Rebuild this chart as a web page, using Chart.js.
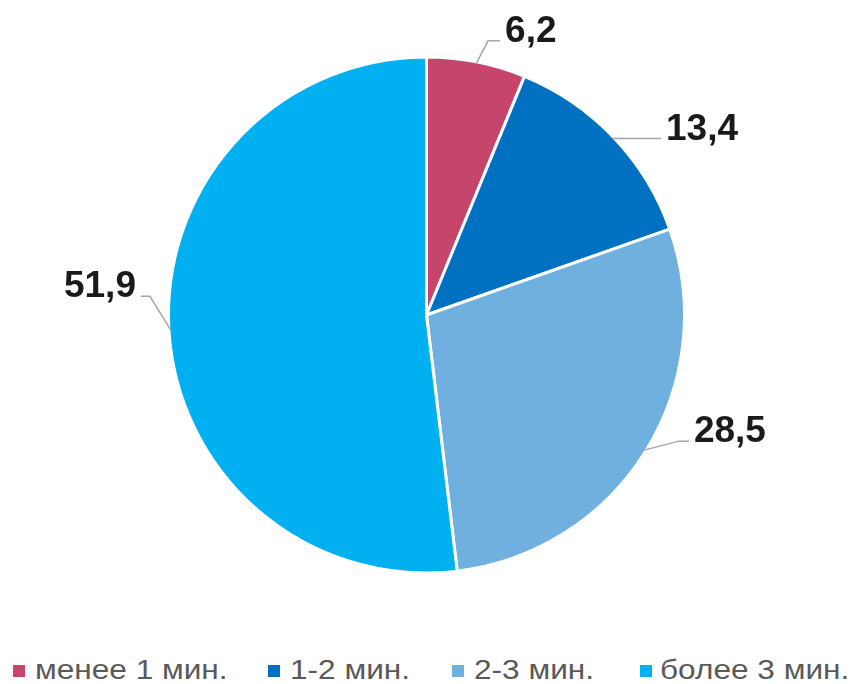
<!DOCTYPE html>
<html>
<head>
<meta charset="utf-8">
<script src="https://cdn.jsdelivr.net/npm/chart.js@4.4.1/dist/chart.umd.min.js"></script>
<style>
  html, body { margin: 0; padding: 0; background: #fff; }
  .wrap { position: relative; width: 853px; height: 684px; }
  .chart-box { position: absolute; left: 0; top: 0; width: 853px; height: 630px; }
  .legend { position: absolute; left: 0; top: 657px; width: 853px; height: 27px;
            font-family: "Liberation Sans", Arial, sans-serif; font-size: 27px; line-height: 27px; color: #595959; }
  .legend .item { position: absolute; top: 0; white-space: nowrap; }
  .legend .sw { position: absolute; top: 8px; width: 12px; height: 12px; }
  .legend .tx { position: absolute; top: 0; display: inline-block; transform: scaleX(1.17); transform-origin: 0 0; }
</style>
</head>
<body>
<div class="wrap">
  <div class="chart-box"><canvas id="pie"></canvas></div>
  <div class="legend" id="legend"></div>
</div>
<script>
const categories = ['менее 1 мин.', '1-2 мин.', '2-3 мин.', 'более 3 мин.'];
const shares = [6.2, 13.4, 28.5, 51.9];
const valueLabels = ['6,2', '13,4', '28,5', '51,9'];
const colors = ['#C5466A', '#0070C0', '#6FB0DE', '#00B0F0'];

// leader line layout per slice: elbow offset from arc point, then horizontal run
const leaders = [
  { dx: 12, dy: -23, run: 12 },
  { dx: 0, dy: 0, run: 49 },
  { dx: 35, dy: -9, run: 10 },
  { dx: -21, dy: -34, run: -9 },
];
// legend item left edges
const legendX = [13, 268, 452, 640];

const leaderLabels = {
  id: 'leaderLabels',
  afterDatasetsDraw(chart) {
    const ctx = chart.ctx;
    const arcs = chart.getDatasetMeta(0).data;
    ctx.save();
    arcs.forEach((arc, i) => {
      const mid = (arc.startAngle + arc.endAngle) / 2;
      const r = arc.outerRadius - 2;
      const x0 = arc.x + Math.cos(mid) * r;
      const y0 = arc.y + Math.sin(mid) * r;
      const l = leaders[i];
      const x1 = x0 + l.dx, y1 = y0 + l.dy;
      const x2 = x1 + l.run;
      ctx.strokeStyle = '#A6A6A6';
      ctx.lineWidth = 1.5;
      ctx.beginPath();
      ctx.moveTo(x0, y0);
      ctx.lineTo(x1, y1);
      ctx.lineTo(x2, y1);
      ctx.stroke();
      ctx.fillStyle = '#1A1A1A';
      ctx.font = 'bold 37px "Liberation Sans", Arial, sans-serif';
      ctx.textBaseline = 'alphabetic';
      ctx.textAlign = l.run >= 0 ? 'left' : 'right';
      ctx.fillText(valueLabels[i], x2 + (l.run >= 0 ? 5 : -5), y1 + 1);
    });
    ctx.restore();
  }
};

new Chart(document.getElementById('pie').getContext('2d'), {
  type: 'pie',
  data: {
    labels: categories,
    datasets: [{
      data: shares,
      backgroundColor: colors,
      borderColor: '#ffffff',
      borderWidth: 3,
      radius: 258,
    }],
  },
  options: {
    responsive: true,
    maintainAspectRatio: false,
    animation: false,
    layout: { padding: 0 },
    plugins: {
      legend: { display: false },
      tooltip: { enabled: false },
    },
  },
  plugins: [leaderLabels],
});

const legendEl = document.getElementById('legend');
categories.forEach((c, i) => {
  const item = document.createElement('div');
  item.className = 'item';
  item.style.left = legendX[i] + 'px';
  item.innerHTML = '<span class="sw" style="left:0;background:' + colors[i] + '"></span>' +
    '<span class="tx" style="left:' + (i === 3 ? 20 : 22) + 'px">' + c + '</span>';
  legendEl.appendChild(item);
});
</script>
</body>
</html>
